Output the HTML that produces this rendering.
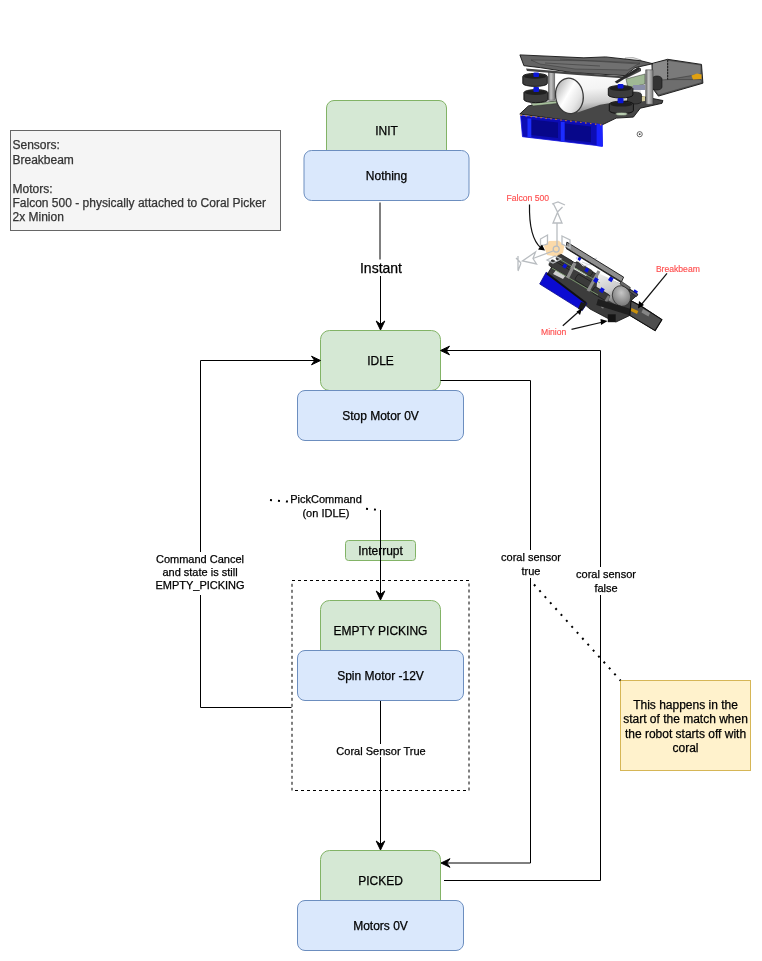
<!DOCTYPE html>
<html><head><meta charset="utf-8">
<style>
html,body{margin:0;padding:0;background:#fff;}
body{width:762px;height:961px;overflow:hidden;position:relative;}
svg{position:absolute;left:0;top:0;will-change:transform;}
text{font-family:"Liberation Sans",sans-serif;fill:#000;stroke:#000;stroke-width:0.25px;}
</style></head>
<body>
<svg width="762" height="961" viewBox="0 0 762 961">
<defs>
<path id="arrD" d="M0,0 L-4.3,-9 L0,-5.8 L4.3,-9 Z"/>
</defs>


<!-- ===== Robot image 1 ===== -->
<g id="robot1" stroke-linejoin="round">
<defs>
<linearGradient id="cylG" x1="0" y1="0" x2="0.15" y2="1">
<stop offset="0" stop-color="#ffffff"/><stop offset="0.5" stop-color="#f4f4f4"/><stop offset="0.8" stop-color="#cfcfcf"/><stop offset="1" stop-color="#8f8f8f"/>
</linearGradient>
<linearGradient id="cylF" x1="0" y1="0" x2="1" y2="1">
<stop offset="0" stop-color="#9a9a9a"/><stop offset="0.45" stop-color="#ffffff"/><stop offset="0.7" stop-color="#e6e6e6"/><stop offset="1" stop-color="#b0b0b0"/>
</linearGradient>
<linearGradient id="pilG" x1="0" y1="0" x2="1" y2="0">
<stop offset="0" stop-color="#6e6e6e"/><stop offset="0.4" stop-color="#c4c4c4"/><stop offset="1" stop-color="#7a7a7a"/>
</linearGradient>
</defs>
<!-- right box -->
<polygon points="651.9,63.5 667.6,59.3 701.5,64.4 702.9,83.2 658.4,96.1 652.9,88.7" fill="#666" stroke="#111" stroke-width="0.9"/>
<polygon points="652.9,63.8 667.6,60.3 667.6,79.6 652.9,80.5" fill="#8a8a8a"/>
<polygon points="667.6,60.3 701,65 701,74 667.6,79.6" fill="#7a7a7a" stroke="#222" stroke-width="0.4"/>
<polygon points="652.9,80.5 667.6,79.6 701,79.6 702,82.5 658.4,95 653.5,88" fill="#6e6e6e" stroke="#222" stroke-width="0.4"/>
<path d="M667.6,60.3 V79.6" stroke="#1a1a1a" stroke-width="1.2" stroke-dasharray="1.5 1.5"/>
<polygon points="691.4,75.5 697,73.6 701.5,74.5 701.5,79 693,79.6" fill="#e0a010"/>
<!-- rear wheel right -->
<path d="M652,79 a5,3 0 0 1 10,0 v8 a5,3 0 0 1 -10,0 z" fill="#333" stroke="#111" stroke-width="0.6"/>
<!-- bottom plate -->
<polygon points="519.8,114 528.4,105.9 554,101.5 600,98 640,96 662.9,100.5 662,103.3 640.3,108.2 633.4,117.1 616.2,118.1 601.9,125" fill="#474747" stroke="#111" stroke-width="0.9"/>
<!-- cylinder body -->
<path d="M565.2,78.6 L600,74.7 L640,68.5 L641,98 L600,104.8 L577.5,112.6 Z" fill="url(#cylG)"/>
<path d="M625,58 q8,-2 16,2 l-2,6 h-14 z" fill="#e8e8e8" stroke="#777" stroke-width="0.5"/>
<ellipse cx="569.4" cy="95.9" rx="13.8" ry="17.8" transform="rotate(-8 569.4 95.9)" fill="url(#cylF)" stroke="#3a3a3a" stroke-width="1.3"/>
<!-- green board -->
<polygon points="531,103.5 556,101 557,103.5 533,106" fill="#a7c09c" stroke="#2a2a2a" stroke-width="0.5"/>
<polygon points="626,79 645,74 645,84 628,88" fill="#9fb894" stroke="#333" stroke-width="0.5"/>
<rect x="633" y="85" width="12" height="5" fill="#8a8fa8"/>
<polygon points="637,97 645,96 645,101 637,102" fill="#d8d0a0"/>
<!-- rear wheel middle -->
<path d="M627.5,94.5 a7,2.5 0 0 1 14,0 v7 a7,2.5 0 0 1 -14,0 z" fill="#3a3a3a" stroke="#111" stroke-width="0.6"/>
<!-- pillars -->
<rect x="548.5" y="71.3" width="6.1" height="29" fill="url(#pilG)" stroke="#333" stroke-width="0.5"/>
<rect x="645.7" y="69.8" width="7.3" height="34.5" fill="url(#pilG)" stroke="#333" stroke-width="0.5"/>
<!-- wheels -->
<g fill="#3c3c3c" stroke="#0d0d0d" stroke-width="0.9">
<path d="M522.8,76.4 a12.25,3 0 0 1 24.5,0 v7 a12.25,3 0 0 1 -24.5,0 z"/>
<path d="M523.9,92.6 a12,3 0 0 1 24,0 v7 a12,3 0 0 1 -24,0 z"/>
<path d="M608.3,88.5 a12.3,3 0 0 1 24.6,0 v6.5 a12.3,3 0 0 1 -24.6,0 z"/>
<path d="M609.3,104.2 a12.05,3 0 0 1 24.1,0 v6.5 a12.05,3 0 0 1 -24.1,0 z"/>
</g>
<g fill="#1f1f1f">
<ellipse cx="535" cy="76.4" rx="11" ry="2.4"/><ellipse cx="535.9" cy="92.6" rx="11" ry="2.4"/>
<ellipse cx="620.6" cy="88.5" rx="11" ry="2.4"/><ellipse cx="621.3" cy="104.2" rx="11" ry="2.4"/>
</g>
<g fill="#0b16d6">
<rect x="533.4" y="72.5" width="5.6" height="4.5" rx="1"/><rect x="533.4" y="87" width="5.6" height="5" rx="1"/>
<rect x="617.6" y="84" width="5.9" height="4.5" rx="1"/><rect x="617.6" y="97.9" width="5.9" height="5.4" rx="1"/>
</g>
<ellipse cx="621.5" cy="114" rx="6" ry="1.6" fill="#b9cdb0" stroke="#333" stroke-width="0.4"/>
<!-- top plate -->
<polygon points="519.9,54.9 583.9,57.8 605.6,56.9 641,60.8 652.8,63.7 635,67.7 625,75.6 572,72.6 540.6,67.7 523.9,65.7" fill="#646464" stroke="#151515" stroke-width="0.9"/>
<polygon points="531,60 600,61 640,63 628,70 575,69 540,64" fill="#707070" stroke="#2a2a2a" stroke-width="0.4"/>
<path d="M560,59 L640,64 M545,63 L600,66" stroke="#3a3a3a" stroke-width="0.6"/>
<polygon points="526,68.5 574,72.5 625,76.5 641,68.5 641,71 626,78.5 574,74.8 527,71" fill="#444"/>
<path d="M614.7,81.7 L638.3,66.9 L641,68.5 L617,83.5 Z" fill="#2a2a2a"/>
<!-- bumper -->
<polygon points="520.6,115.5 601.9,124.6 602.5,146.2 522.5,136.7" fill="#0d0db4" stroke="#1212e0" stroke-width="0.8"/>
<polygon points="531,119.5 558,122.5 558,138 531,135" fill="#07078a"/>
<polygon points="565,123.5 591,126.5 591,142.3 565,139.5" fill="#07078a"/>
<polygon points="596.6,123.7 602.5,124.5 602.5,146.7 596.6,146" fill="#1a22ff"/>
<rect x="527.5" y="118.5" width="3.8" height="18.5" fill="#1c2cff"/>
<rect x="560.8" y="122" width="3.8" height="19.5" fill="#1c2cff"/>
<!-- orange dots -->
<path d="M520.5,115.3 L601.9,124.9" stroke="#d27c1c" stroke-width="1.1" stroke-dasharray="1.5 3.5"/>
<!-- symbol -->
<circle cx="639.7" cy="134.2" r="2.6" fill="none" stroke="#444" stroke-width="0.8"/>
<circle cx="639.7" cy="134.2" r="0.9" fill="#444"/>
</g>

<!-- ===== Robot image 2 ===== -->
<g id="robot2" stroke-linejoin="round">
<defs>
<linearGradient id="cyl2b" x1="0" y1="0" x2="0.4" y2="1">
<stop offset="0" stop-color="#f2f2f2"/><stop offset="0.6" stop-color="#c8c8c8"/><stop offset="1" stop-color="#6e6e6e"/>
</linearGradient>
<radialGradient id="cyl2" cx="0.55" cy="0.35" r="0.75">
<stop offset="0" stop-color="#c6c6c6"/><stop offset="1" stop-color="#6a6a6a"/>
</radialGradient>
</defs>
<!-- body -->
<polygon points="562,256 600.5,276 625,286 638,294.4 631,300.7 642.5,307 661.9,319.6 655.1,330.6 629.9,315.4 616,322 607,318 590,309 548,273 553,265" fill="#3c3c3c" stroke="#111" stroke-width="0.8"/>
<polygon points="572,262 590,272 586,276 570,267" fill="#e9e9e9"/>
<polygon points="556,270 566,275 563,279 553,274" fill="#d0d0d0"/>
<!-- cylinder -->
<path d="M598,273 L624.6,285.5 L631,294 L618,306 L596,293 Z" fill="url(#cyl2b)"/>
<ellipse cx="621.5" cy="296" rx="9" ry="10.5" transform="rotate(-20 621.5 296)" fill="url(#cyl2)" stroke="#333" stroke-width="0.8"/>
<!-- wheels rows -->
<g transform="rotate(31 600 280)" fill="#3a3a3a" stroke="#151515" stroke-width="0.6">
<rect x="-49" y="-2" width="17" height="7" rx="2" transform="translate(600,280)"/>
<rect x="-52" y="7" width="22" height="7" rx="2" transform="translate(600,280)"/>
<rect x="-22" y="6" width="18" height="7" rx="2" transform="translate(600,280)"/>
<rect x="-1" y="8" width="18" height="7" rx="2" transform="translate(600,280)"/>
<rect x="-30" y="-4" width="20" height="6" rx="2" transform="translate(600,280)"/>
</g>
<!-- green lines -->
<path d="M552,268 L598,295" stroke="#7e9c70" stroke-width="0.9"/>
<path d="M561,260 L600,283" stroke="#7e9c70" stroke-width="0.8"/>
<!-- struts -->
<path d="M575,263 L567.5,278" stroke="#8e8e8e" stroke-width="3.2"/>
<path d="M599,271 L588,291" stroke="#8e8e8e" stroke-width="3.2"/>
<path d="M609,296 L602,308" stroke="#7a7a7a" stroke-width="2.5"/>
<!-- blue dots -->
<g fill="#0a12d8">
<rect x="563" y="264" width="3.5" height="4" transform="rotate(31 564.7 266)"/>
<rect x="585" y="268" width="3.5" height="4" transform="rotate(31 586.7 270)"/>
<rect x="594" y="278" width="4" height="4.5" transform="rotate(31 596 280)"/>
<rect x="600" y="288" width="4" height="4.5" transform="rotate(31 602 290)"/>
<rect x="609" y="277" width="4" height="4.5" transform="rotate(31 611 279)"/>
<rect x="633" y="290" width="4" height="5" transform="rotate(31 635 292.5)"/>
<rect x="578" y="257" width="3" height="3.5" transform="rotate(31 579.5 258.7)"/>
</g>
<!-- light wireframe clamp -->
<g fill="none" stroke="#d8dade" stroke-width="1">
<path d="M576,258 l6,-4 l5,6 l10,-2 l-6,6 l-8,2 z"/>
<path d="M582,262 l8,3 l6,-1"/>
</g>
<!-- top bar -->
<polygon points="566.9,242.1 623.6,277.1 621.5,281.8 566,248" fill="#8e8e8e" stroke="#151515" stroke-width="0.9"/>
<path d="M566.5,248.5 L621.5,282.5" stroke="#222" stroke-width="1.2"/>
<polygon points="621,281 630.4,287.6 629.5,290 620,284" fill="#6a6a6a" stroke="#151515" stroke-width="0.6"/>
<polygon points="630.4,289.7 637.8,294.4 636.5,296.5 629.5,291.5" fill="#5a5a5a" stroke="#151515" stroke-width="0.6"/>
<!-- lower dark band -->
<polygon points="596.3,304.9 629.9,315.4 631,309 598,299" fill="#1e1e1e"/>
<!-- tip -->
<polygon points="631,300.7 642.5,307 661.9,319.6 655.1,330.6 629.9,315.4" fill="#4e4e4e" stroke="#0e0e0e" stroke-width="1.1"/>
<polygon points="643,309 650,313 648.5,316.5 641.5,312.5" fill="#858585"/>
<polygon points="631.5,308 638.3,311 637,314 630.8,311" fill="#c8900c"/>
<rect x="607.8" y="314.3" width="7.9" height="7.9" fill="#141414"/>
<!-- bumper -->
<polygon points="546.2,272.2 539.7,284 582.2,310.6 587,303.5" fill="#0b0bd2" stroke="#06068a" stroke-width="0.8"/>
<path d="M547,273.5 L586,303" stroke="#111" stroke-width="2"/>
<polygon points="581,302 587,303.5 582.2,310.6 578,309" fill="#1a1a1a"/>
</g>
<!-- gizmo -->
<path d="M553,249 a9,9 0 1 1 0.1,0 Z" fill="none"/>
<polygon points="544,246 549,241 559,240.8 564.3,246 563,253 556,256.5 547,255" fill="#fbd49a" opacity="0.85"/>
<g fill="none" stroke="#b9bdc1" stroke-width="1.3">
<circle cx="556.2" cy="249.1" r="3"/>
<path d="M557,246 V223"/>
<path d="M553,223 H562 L557.5,212.5 Z"/>
<path d="M557.5,212 l-4,-8 M557.5,212 l5,-5 M552,204 l6,-2 l7,3"/>
<path d="M553,251 L533,258.5"/>
<path d="M533,258.5 l2.5,-6.5 l-13,9 l14,3 Z"/>
<path d="M521,263 l-5,-5 M521,263 l-3,8 M518,256 v14"/>
<path d="M540.5,239 l7,-4 v9 l-7,2 Z"/>
<path d="M562,236 l8,4 v8 l-8,-4 Z"/>
<path d="M547,260 l8,-4 l6,3 l-8,4 Z"/>
</g>
<!-- labels and arrows -->
<g font-size="8.6" style="fill:#ff4f4f;stroke:#ff4f4f;stroke-width:0.15px">
<text x="506.6" y="201" style="fill:#ff4f4f;stroke:#ff4f4f;stroke-width:0.15px">Falcon 500</text>
<text x="655.9" y="271.6" style="fill:#ff4f4f;stroke:#ff4f4f;stroke-width:0.15px">Breakbeam</text>
<text x="541" y="335" style="fill:#ff4f4f;stroke:#ff4f4f;stroke-width:0.15px">Minion</text>
</g>
<g fill="none" stroke="#111" stroke-width="1.2">
<path d="M529.5,204.5 C529,228 534,242 541,248"/>
<path d="M667,273.3 L641,305"/>
<path d="M571.5,329.3 L603,322"/>
<path d="M562.8,325.8 L580,310.5"/>
</g>
<g fill="#000">
<polygon points="545,250.5 538,249.5 542,244.5"/>
<polygon points="638,308.5 639,301 644,305"/>
<polygon points="607.6,320.9 601,325 600.5,319"/>
<polygon points="582,308.5 580,315 576.5,311.5"/>
</g>
</g>

<!-- Sensors box -->
<rect x="10.5" y="130.5" width="270" height="100" fill="#f5f5f5" stroke="#666666"/>
<g font-size="12" style="fill:#333333">
<text x="12.5" y="148.9" style="fill:#333;stroke:#333">Sensors:</text>
<text x="12.5" y="164" style="fill:#333;stroke:#333">Breakbeam</text>
<text x="12.5" y="193" style="fill:#333;stroke:#333">Motors:</text>
<text x="12.5" y="206.5" style="fill:#333;stroke:#333">Falcon 500 - physically attached to Coral Picker</text>
<text x="12.5" y="220.9" style="fill:#333;stroke:#333">2x Minion</text>
</g>

<!-- INIT / Nothing -->
<rect x="326.5" y="100.5" width="120" height="60" rx="7.5" fill="#d5e8d4" stroke="#82b366"/>
<text x="386.5" y="134.8" font-size="12" text-anchor="middle">INIT</text>
<rect x="304" y="150.5" width="165" height="50" rx="7.5" fill="#dae8fc" stroke="#6c8ebf"/>
<text x="386.5" y="179.8" font-size="12" text-anchor="middle">Nothing</text>

<!-- IDLE / Stop Motor -->
<rect x="320.5" y="330.5" width="120" height="60" rx="9" fill="#d5e8d4" stroke="#82b366"/>
<text x="380.5" y="364.8" font-size="12" text-anchor="middle">IDLE</text>
<rect x="297.5" y="390.5" width="166" height="50" rx="7.5" fill="#dae8fc" stroke="#6c8ebf"/>
<text x="380.5" y="419.8" font-size="12" text-anchor="middle">Stop Motor 0V</text>

<!-- dashed group -->
<g fill="none" stroke="#000" stroke-dasharray="3 3">
<path d="M292,580.5 H469"/>
<path d="M469,790.5 V583"/>
<path d="M466,790.5 H292"/>
<path d="M292,583.8 V790.5"/>
</g>

<!-- EMPTY PICKING / Spin Motor -->
<rect x="320.5" y="600.5" width="120" height="60" rx="9" fill="#d5e8d4" stroke="#82b366"/>
<text x="380.5" y="634.8" font-size="12" text-anchor="middle">EMPTY PICKING</text>
<rect x="297.5" y="650.5" width="166" height="50" rx="7.5" fill="#dae8fc" stroke="#6c8ebf"/>
<text x="380.5" y="679.8" font-size="12" text-anchor="middle">Spin Motor -12V</text>

<!-- PICKED / Motors 0V -->
<rect x="320.5" y="850.5" width="120" height="60" rx="9" fill="#d5e8d4" stroke="#82b366"/>
<text x="380.5" y="884.8" font-size="12" text-anchor="middle">PICKED</text>
<rect x="297.5" y="900.5" width="166" height="50" rx="7.5" fill="#dae8fc" stroke="#6c8ebf"/>
<text x="380.5" y="929.8" font-size="12" text-anchor="middle">Motors 0V</text>

<!-- Interrupt -->
<rect x="345.5" y="540.5" width="70" height="20" rx="3" fill="#d5e8d4" stroke="#82b366"/>
<text x="380.5" y="555" font-size="12" text-anchor="middle">Interrupt</text>

<!-- Yellow note -->
<rect x="620.5" y="680.5" width="130" height="90" fill="#fff2cc" stroke="#d6b656"/>
<g font-size="12" text-anchor="middle">
<text x="685.5" y="709">This happens in the</text>
<text x="685.5" y="723.4">start of the match when</text>
<text x="685.5" y="737.8">the robot starts off with</text>
<text x="685.5" y="752.2">coral</text>
</g>

<!-- Edges -->
<g fill="none" stroke="#000" stroke-width="1">
<!-- Nothing -> IDLE -->
<path d="M380,202.5 V259.5 M380.5,276 V325"/>
<!-- IDLE -> PICKED -->
<path d="M440.5,380.5 H530.5 V550 M530.5,578 V863 H446"/>
<!-- PICKED -> IDLE -->
<path d="M444,880.5 H600.5 V595 M600.5,567 V350.5 H446"/>
<!-- Command cancel -->
<path d="M291.5,707.5 H200.5 V595 M200.5,552 V360.5 H315"/>
<!-- PickCommand -> EMPTY -->
<path d="M380.5,510 V595"/>
<!-- Spin -> PICKED -->
<path d="M380.5,701 V744 M380.5,757 V845"/>
</g>
<!-- dotted -->
<g fill="none" stroke="#000" stroke-width="2" stroke-dasharray="2 6">
<path d="M270,500 L290,501.8"/>
<path d="M366,508.7 L380,510"/>
<path d="M534,584.5 L620.5,680.5"/>
</g>
<!-- arrowheads -->
<g fill="#000" stroke="#000" stroke-width="1">
<use href="#arrD" transform="translate(380.5,330)"/>
<use href="#arrD" transform="translate(380.5,600)"/>
<use href="#arrD" transform="translate(380.5,850)"/>
<use href="#arrD" transform="translate(441,863) rotate(90)"/>
<use href="#arrD" transform="translate(440.5,350.5) rotate(90)"/>
<use href="#arrD" transform="translate(320.5,360.5) rotate(-90)"/>
</g>

<!-- Edge labels -->
<text x="381" y="273" font-size="14" text-anchor="middle">Instant</text>
<g font-size="11" text-anchor="middle">
<text x="531" y="561">coral sensor</text>
<text x="531" y="575">true</text>
<text x="606" y="577.8">coral sensor</text>
<text x="606" y="591.8">false</text>
<text x="200" y="562.6">Command Cancel</text>
<text x="200" y="575.6">and state is still</text>
<text x="200" y="588.6">EMPTY_PICKING</text>
<text x="381" y="754.9">Coral Sensor True</text>
<text x="326" y="503">PickCommand</text>
<text x="326" y="517">(on IDLE)</text>
</g>

</svg>
</body></html>
